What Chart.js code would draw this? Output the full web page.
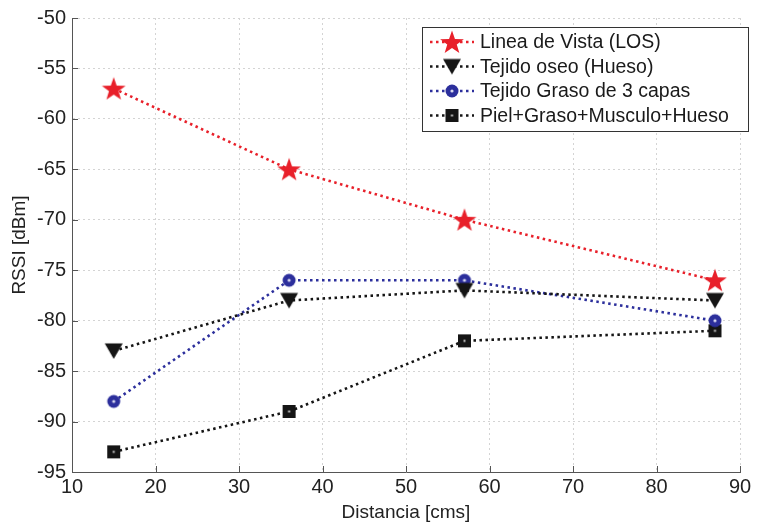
<!DOCTYPE html>
<html>
<head>
<meta charset="utf-8">
<script src="https://cdn.jsdelivr.net/npm/chart.js@4/dist/chart.umd.min.js"></script>
<style>
  html, body { margin: 0; padding: 0; background: #fff; }
  #wrap { width: 761px; height: 525px; }
</style>
</head>
<body>
<div id="wrap"><canvas id="grafico" width="761" height="525"></canvas></div>
<script>
// Distancias medidas y RSSI por tipo de tejido
const distancias = [15, 36, 57, 87];
const rssiLOS = [-57, -65, -70, -76];
const rssiHueso = [-83, -78, -77, -78];
const rssiGraso = [-88, -76, -76, -80];
const rssiPiel = [-93, -89, -82, -81];
const etiquetas = [
    'Linea de Vista (LOS)',
    'Tejido oseo (Hueso)',
    'Tejido Graso de 3 capas',
    'Piel+Graso+Musculo+Hueso'
];
const ticksX = [10, 20, 30, 40, 50, 60, 70, 80, 90];

const FUENTE = '"Liberation Sans", Arial, sans-serif';
const ROJO = '#e8202a';
const AZUL = '#2c2f9c';
const NEGRO = '#151515';
const PUNTEADO = [2.5, 3.5];

// Marcadores dibujados en canvas (estrella rellena, triangulo, circulo, cuadrado)
function lienzo(w, h) {
    const c = document.createElement('canvas');
    c.width = w; c.height = h;
    return c;
}

function marcaEstrella() {
    const c = lienzo(26, 26), g = c.getContext('2d');
    const r = 12.5, ri = 5;
    g.beginPath();
    for (let i = 0; i < 10; i++) {
        const a = -Math.PI / 2 + i * Math.PI / 5;
        const rr = i % 2 === 0 ? r : ri;
        g.lineTo(13 + rr * Math.cos(a), 14 + rr * Math.sin(a));
    }
    g.closePath();
    g.fillStyle = ROJO;
    g.fill();
    return c;
}

function marcaTriangulo() {
    const c = lienzo(20, 18), g = c.getContext('2d');
    g.beginPath();
    g.moveTo(1, 1.5); g.lineTo(19, 1.5); g.lineTo(10, 17);
    g.closePath();
    g.fillStyle = NEGRO;
    g.fill();
    return c;
}

function marcaCirculo() {
    const c = lienzo(16, 16), g = c.getContext('2d');
    g.beginPath();
    g.arc(8, 8, 6.5, 0, Math.PI * 2);
    g.fillStyle = AZUL;
    g.fill();
    g.beginPath();
    g.arc(8, 8, 1.6, 0, Math.PI * 2);
    g.fillStyle = '#d8d8f0';
    g.fill();
    return c;
}

function marcaCuadrado() {
    const c = lienzo(15, 15), g = c.getContext('2d');
    g.fillStyle = NEGRO;
    g.fillRect(1, 1, 13, 13);
    g.fillStyle = '#cfcfcf';
    g.fillRect(6.5, 6.5, 2, 2);
    return c;
}

function serie(valores, etiqueta, color, marca) {
    return {
        label: etiqueta,
        data: distancias.map((d, i) => ({ x: d, y: valores[i] })),
        showLine: true,
        borderColor: color,
        borderWidth: 2.6,
        borderDash: PUNTEADO,
        pointStyle: marca,
        pointRadius: 10,
        pointHoverRadius: 10
    };
}

const conjuntos = [
    serie(rssiLOS, etiquetas[0], ROJO, marcaEstrella()),
    serie(rssiHueso, etiquetas[1], NEGRO, marcaTriangulo()),
    serie(rssiGraso, etiquetas[2], AZUL, marcaCirculo()),
    serie(rssiPiel, etiquetas[3], NEGRO, marcaCuadrado())
];

// Marcas de division hacia dentro, como en MATLAB
const marcasInternas = {
    id: 'marcasInternas',
    afterDraw(chart) {
        const g = chart.ctx, a = chart.chartArea;
        const sx = chart.scales.x, sy = chart.scales.y;
        g.save();
        g.strokeStyle = '#555';
        g.lineWidth = 1;
        sx.ticks.forEach(t => {
            const px = Math.round(sx.getPixelForValue(t.value)) + 0.5;
            g.beginPath(); g.moveTo(px, a.bottom); g.lineTo(px, a.bottom - 6); g.stroke();
        });
        sy.ticks.forEach(t => {
            const py = Math.round(sy.getPixelForValue(t.value)) + 0.5;
            g.beginPath(); g.moveTo(a.left, py); g.lineTo(a.left + 6, py); g.stroke();
        });
        g.restore();
    }
};

// Leyenda con recuadro: muestra linea punteada + marcador de cada serie
const leyendaCaja = {
    id: 'leyendaCaja',
    afterDatasetsDraw(chart) {
        const g = chart.ctx, a = chart.chartArea;
        const x0 = a.right - 318, y0 = a.top + 9, w = 326, h = 104;
        g.save();
        g.fillStyle = '#fff';
        g.fillRect(x0, y0, w, h);
        g.strokeStyle = '#333';
        g.lineWidth = 1;
        g.strokeRect(x0 + 0.5, y0 + 0.5, w, h);
        g.font = '19.5px ' + FUENTE;
        g.textBaseline = 'middle';
        chart.data.datasets.forEach((ds, i) => {
            const cy = y0 + 15 + i * 24.5;
            g.strokeStyle = ds.borderColor;
            g.lineWidth = 2.6;
            g.setLineDash(PUNTEADO);
            g.beginPath(); g.moveTo(x0 + 8, cy); g.lineTo(x0 + 52, cy); g.stroke();
            g.setLineDash([]);
            const m = ds.pointStyle;
            g.drawImage(m, x0 + 30 - m.width / 2, cy - m.height / 2);
            g.fillStyle = '#1a1a1a';
            g.fillText(ds.label, x0 + 58, cy + 1);
        });
        g.restore();
    }
};

new Chart(document.getElementById('grafico'), {
    type: 'scatter',
    data: { datasets: conjuntos },
    options: {
        responsive: false,
        animation: false,
        layout: { padding: { top: 15, right: 21, left: 0, bottom: 0 } },
        plugins: {
            legend: { display: false },
            tooltip: { enabled: false }
        },
        scales: {
            x: {
                type: 'linear',
                min: 10, max: 90,
                afterBuildTicks(scale) { scale.ticks = ticksX.map(v => ({ value: v })); },
                afterFit(scale) { scale.height = 53; },
                ticks: {
                    color: '#222',
                    font: { family: FUENTE, size: 20 },
                    padding: 3,
                    maxRotation: 0
                },
                grid: { color: '#d4d4d4', lineWidth: 1, drawTicks: false },
                border: { color: '#555', width: 1, dash: [2, 3] },
                title: {
                    display: true,
                    text: 'Distancia [cms]',
                    color: '#222',
                    font: { family: FUENTE, size: 19 },
                    padding: { top: 0, bottom: 1 }
                }
            },
            y: {
                type: 'linear',
                min: -95, max: -50,
                afterFit(scale) { scale.width = 72; },
                ticks: {
                    stepSize: 5,
                    color: '#222',
                    font: { family: FUENTE, size: 20 },
                    padding: 6
                },
                grid: { color: '#d4d4d4', lineWidth: 1, drawTicks: false },
                border: { color: '#555', width: 1, dash: [2, 3] },
                title: {
                    display: true,
                    text: 'RSSI [dBm]',
                    color: '#222',
                    font: { family: FUENTE, size: 19 },
                    padding: { top: 8, bottom: 0 }
                }
            }
        }
    },
    plugins: [marcasInternas, leyendaCaja]
});
</script>
</body>
</html>
